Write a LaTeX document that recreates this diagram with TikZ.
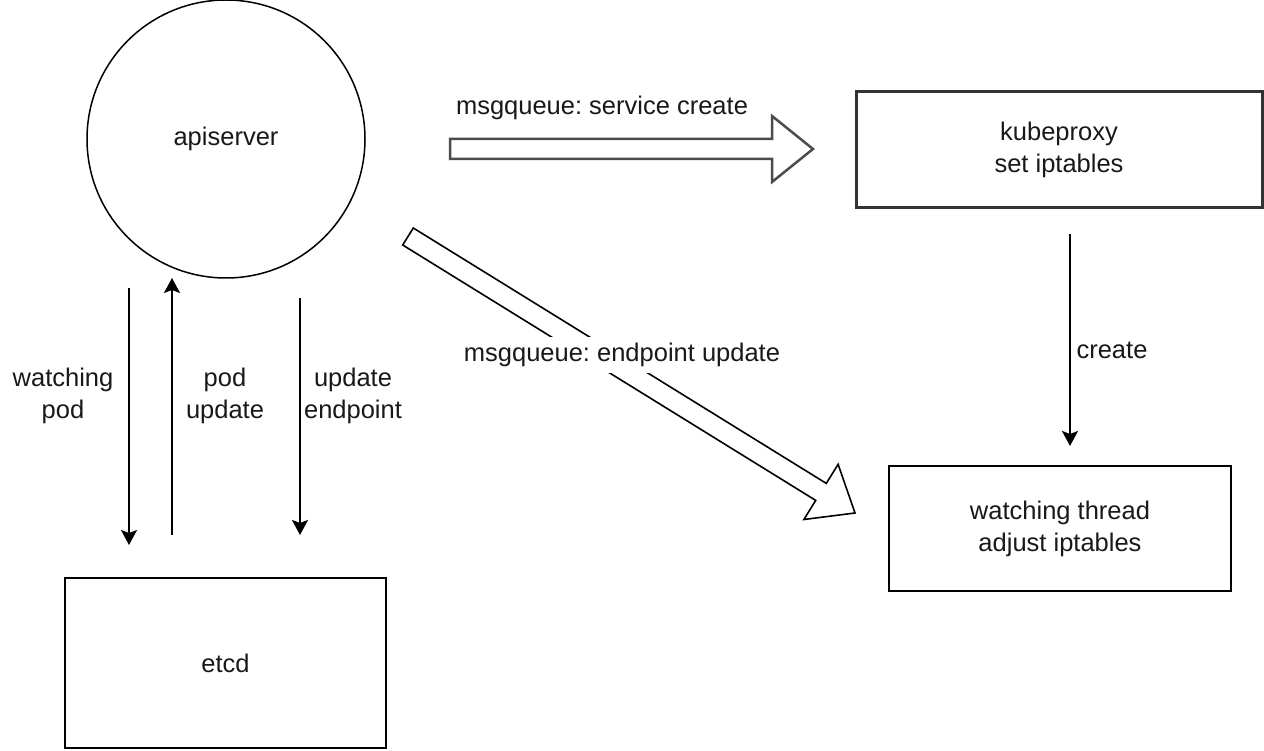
\documentclass[tikz,border=0pt]{standalone}
\usepackage{fontspec}
\setmainfont{Liberation Sans}
\usetikzlibrary{arrows.meta}
\begin{document}
\frenchspacing
\begin{tikzpicture}[x=1pt,y=-1pt,
  lbl/.style={font=\fontsize{25.5}{32}\selectfont, text=black!90, align=center, inner sep=0pt},
  box/.style={draw=black, line width=2pt, rectangle, inner sep=0pt, lbl},
  conn/.style={draw=black, line width=1.6pt, -{Stealth[length=15pt,width=16pt,inset=3pt]}},
  blockarrow/.style={draw=black, fill=white, line width=1.6pt, line join=miter}
]
\useasboundingbox (0,0) rectangle (1264,751);
\fill[white] (0,0) rectangle (1264,751);

% nodes
\node[circle, draw=black, line width=1.5pt, minimum size=278pt, inner sep=0pt, lbl] (api) at (226,139) {apiserver};
\node[box, line width=3pt, draw=black!80, minimum width=406pt, minimum height=116pt] (kube) at (1059,150) {kubeproxy\\set iptables};
\node[box, minimum width=342pt, minimum height=125pt] (watch) at (1060,528.5) {watching thread\\adjust iptables};
\node[box, minimum width=321pt, minimum height=170pt] (etcd) at (225.5,663) {etcd};

% coordinates for the free-standing connectors
\coordinate (wp1) at (129,288);
\coordinate (wp2) at (129,545);
\coordinate (pu1) at (172,535);
\coordinate (pu2) at (172,278);
\coordinate (ue1) at (300,298);
\coordinate (ue2) at (300,535);
\coordinate (cr1) at (1070,234);
\coordinate (cr2) at (1070,446);

\draw[conn] (wp1) -- (wp2);
\draw[conn] (pu1) -- (pu2);
\draw[conn, line width=2.6pt] (ue1) -- (ue2);
\draw[conn, line width=2pt] (cr1) -- (cr2);

% block arrows
\draw[blockarrow, draw=black!70, line width=2.5pt] (450,139) -- (772,139) -- (772,116) -- (813,149) -- (772,182) -- (772,159) -- (450,159) -- cycle;
\draw[blockarrow] (402.7,245.0) -- (815.7,500.4) -- (803.9,519.5) -- (855,513) -- (838.1,464.3) -- (826.3,483.4) -- (413.3,228.0) -- cycle;

% labels
\node[lbl] (l1) at (602,108) {msgqueue: service create};
\node[lbl, fill=white, inner xsep=2pt, minimum height=35pt] (l2) at (622,355) {msgqueue: endpoint update};
\node[lbl] (l3) at (63,396) {watching\\pod};
\node[lbl] (l4) at (225,396) {pod\\update};
\node[lbl] (l5) at (353,396) {update\\endpoint};
\node[lbl] (l6) at (1112,350) {create};
\end{tikzpicture}
\end{document}
